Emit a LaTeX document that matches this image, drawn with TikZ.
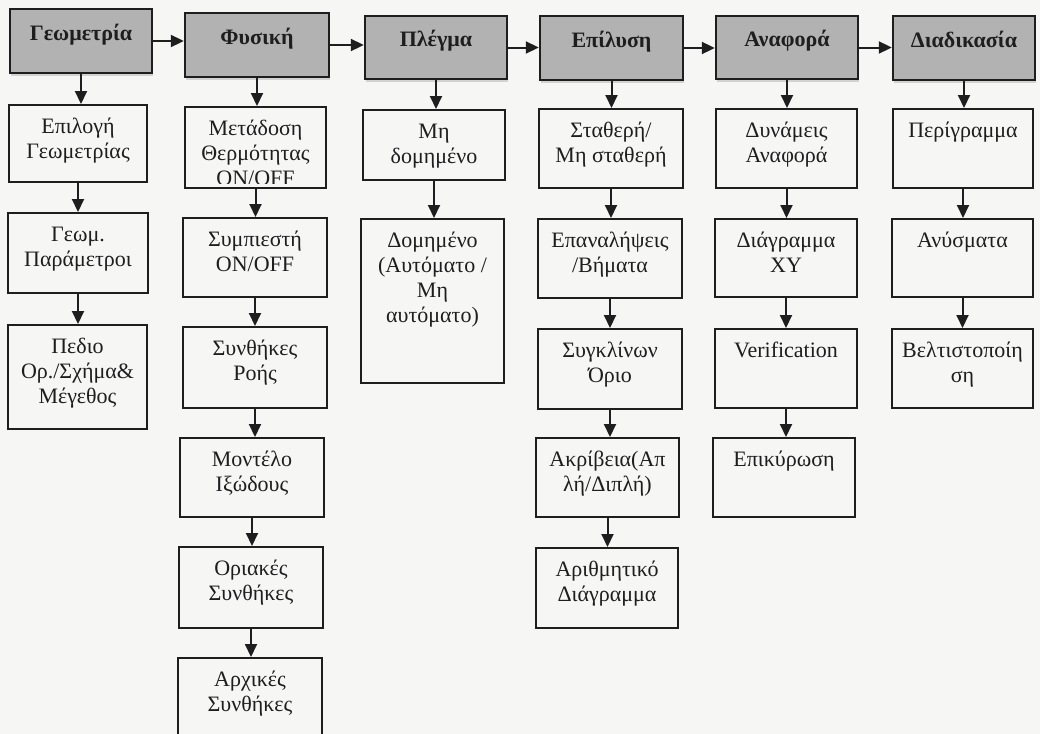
\documentclass[tikz,border=0pt]{standalone}
\usepackage{fontspec}
\setmainfont{Liberation Serif}
\usetikzlibrary{arrows.meta,calc,shadows}
\definecolor{bgc}{RGB}{246,246,245}
\definecolor{hdrc}{RGB}{178,178,178}
\definecolor{inkc}{RGB}{30,30,30}
\tikzset{
  sbox/.style={draw=inkc, line width=1pt, inner sep=0pt},
  hbox/.style={draw=inkc, line width=1.2pt, fill=hdrc, inner sep=0pt,
    drop shadow={shadow xshift=0.6pt, shadow yshift=-1.6pt, opacity=0.3}},
  stxt/.style={font=\fontsize{11}{12.5}\selectfont, align=center, inner sep=0pt, text=inkc},
  htxt/.style={font=\fontsize{11}{12.5}\selectfont\bfseries, inner sep=0pt, text=inkc},
  conn/.style={draw=inkc, line width=1pt, -{Triangle[width=6pt,length=6.5pt]}},
}
\newcommand{\subbox}[6]{%
  \node[sbox, minimum width={(#4-#2)*0.5pt}, minimum height={(#5-#3)*0.5pt}] (#1) at ({(#2+#4)/2},{(#3+#5)/2}) {};
  \node[stxt, anchor=north] (#1t) at ($(#1.north)+(0,11.5)$) {\strut #6};
}
\newcommand{\hdrbox}[6]{%
  \node[hbox, minimum width={(#4-#2)*0.5pt}, minimum height={(#5-#3)*0.5pt}] (#1) at ({(#2+#4)/2},{(#3+#5)/2}) {};
  \node[htxt, anchor=base] (#1t) at ($(#1.center)+(0,-1)$) {#6};
}
\begin{document}
\begin{tikzpicture}[x=0.5pt,y=-0.5pt]
\fill[bgc] (0,0) rectangle (1040,734);
\useasboundingbox (0,0) rectangle (1040,734);

% headers
\hdrbox{h1}{10}{9}{152}{73}{Γεωμετρία}
\hdrbox{h2}{185}{13}{329}{77}{Φυσική}
\hdrbox{h3}{365}{16}{507}{79}{Πλέγμα}
\hdrbox{h4}{540}{16}{683}{80}{Επίλυση}
\hdrbox{h5}{716}{16}{858}{79}{Αναφορά}
\hdrbox{h6}{893}{16}{1035}{80}{Διαδικασία}

% column 1
\subbox{g1}{9}{105}{147}{182}{Επιλογή\\Γεωμετρίας}
\subbox{g2}{8}{213}{148}{293}{Γεωμ.\\Παράμετροι}
\subbox{g3}{8}{325}{147}{429}{Πεδιο\\Ορ./Σχήμα\&\\Μέγεθος}

% column 2
\node[sbox, minimum width={141*0.5pt}, minimum height={81*0.5pt}] (m1) at ({(185+326)/2},{(107+188)/2}) {};
\begin{scope}
  \clip ($(m1.north west)+(1,1)$) rectangle ($(m1.south east)+(-1,-6)$);
  \node[stxt, anchor=north] (m1t) at ($(m1.north)+(0,11.5)$) {\strut Μετάδοση\\Θερμότητας\\ON/OFF};
\end{scope}
\subbox{m2}{183}{218}{327}{297}{Συμπιεστή\\ON/OFF}
\subbox{m3}{183}{327}{327}{408}{Συνθήκες\\Ροής}
\subbox{m4}{180}{438}{324}{517}{Μοντέλο\\Ιξώδους}
\subbox{m5}{179}{547}{323}{628}{Οριακές\\Συνθήκες}
\subbox{m6}{178}{658}{322}{770}{Αρχικές\\Συνθήκες}

% column 3
\subbox{p1}{363}{110}{505}{180}{Μη\\δομημένο}
\subbox{p2}{361}{219}{504}{383}{Δομημένο\\(Αυτόματο /\\Μη\\αυτόματο)}

% column 4
\subbox{e1}{539}{109}{683}{188}{Σταθερή/\\Μη σταθερή}
\subbox{e2}{538}{219}{682}{298}{Επαναλήψεις\\/Βήματα}
\subbox{e3}{538}{329}{682}{409}{Συγκλίνων\\Όριο}
\subbox{e4}{536}{438}{679}{517}{Ακρίβεια(Απ\\λή/Διπλή)}
\subbox{e5}{536}{548}{678}{628}{Αριθμητικό\\Διάγραμμα}

% column 5
\subbox{a1}{716}{109}{857}{188}{Δυνάμεις\\Αναφορά}
\subbox{a2}{715}{219}{857}{297}{Διάγραμμα\\XY}
\subbox{a3}{715}{329}{857}{408}{Verification}
\subbox{a4}{713}{438}{855}{517}{Επικύρωση}

% column 6
\subbox{d1}{893}{109}{1033}{188}{Περίγραμμα}
\subbox{d2}{892}{219}{1033}{297}{Ανύσματα}
\subbox{d3}{892}{329}{1033}{408}{Βελτιστοποίη\\ση}

% horizontal connectors
\foreach \a/\b in {h1/h2,h2/h3,h3/h4,h4/h5,h5/h6}
  \draw[conn] (\a.east) -- (\a.east -| \b.west);

% vertical connectors
\foreach \a/\b in {h1/g1,g1/g2,g2/g3,
                   h2/m1,m1/m2,m2/m3,m3/m4,m4/m5,m5/m6,
                   h3/p1,p1/p2,
                   h4/e1,e1/e2,e2/e3,e3/e4,e4/e5,
                   h5/a1,a1/a2,a2/a3,a3/a4,
                   h6/d1,d1/d2,d2/d3}
  \draw[conn] (\a.south) -- (\a.south |- \b.north);
\end{tikzpicture}
\end{document}
